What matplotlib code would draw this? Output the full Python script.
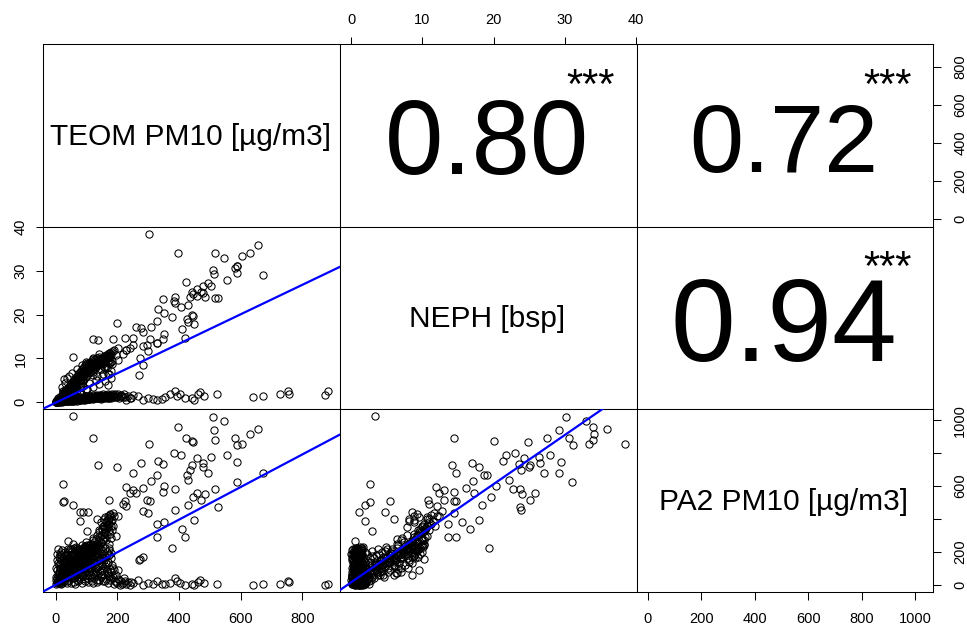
import matplotlib
matplotlib.use("Agg")
import matplotlib.pyplot as plt

plt.rcParams['font.family'] = ['Liberation Sans', 'DejaVu Sans']

# ---------------- data ----------------
var_labels = ["TEOM PM10 [µg/m3]", "NEPH [bsp]", "PA2 PM10 [µg/m3]"]

cluster_upper = [
    (5,0.4,15),(8,0.6,30),(10,0.5,12),(12,0.8,40),(15,1.0,25),(15,0.7,55),(18,1.2,35),(20,1.0,60),
    (20,1.4,20),(22,1.6,48),(25,1.2,70),(25,1.8,42),(28,2.0,58),(30,1.5,90),(30,2.2,65),(32,2.5,45),
    (35,1.8,110),(35,2.6,75),(38,2.9,60),(40,2.2,95),(40,3.1,88),(42,2.5,130),(45,3.4,100),(45,2.8,72),
    (48,3.0,118),(50,3.6,85),(50,2.6,140),(52,3.9,105),(55,3.2,160),(55,4.2,120),(58,3.6,95),(60,4.4,135),
    (60,3.0,175),(62,4.0,150),(65,4.8,110),(65,3.5,125),(68,4.5,170),(70,5.0,140),(70,3.9,190),(72,5.3,160),
    (75,4.2,100),(75,5.6,180),(78,4.8,205),(80,5.2,130),(80,6.0,175),(82,4.5,150),(85,5.6,195),(85,6.3,165),
    (88,5.0,215),(90,6.0,140),(90,6.8,200),(92,5.4,180),(95,6.5,225),(95,7.0,160),(98,5.8,205),(100,6.8,190),
    (100,7.4,230),(102,6.2,150),(105,7.2,210),(108,6.6,240),(110,7.8,220),(112,7.0,185),(115,8.0,250),
    (118,7.4,200),(120,8.4,235),(122,7.0,270),(125,8.6,260),(128,7.8,215),(130,9.0,280),(132,8.2,245),
    (135,9.4,300),(138,8.6,265),(140,9.0,230),(142,9.8,320),(145,8.8,290),(148,9.6,255),(150,10.2,340),
    (152,9.2,305),(155,10.0,275),(158,10.6,360),(160,9.6,320),(162,10.4,290),(165,10.9,380),(168,10.0,350),
    (170,11.0,400),(172,10.4,330),(175,11.2,370),(178,10.6,410),(180,11.5,390),(185,11.8,360),(190,12.0,420),
]
cluster_upper_more = [
    (2,0.2,50),(4,0.5,8),(6,0.3,90),(8,0.9,20),(9,0.4,130),(11,0.7,70),(13,1.1,10),(14,0.5,100),
    (16,1.3,45),(17,0.8,150),(19,1.5,30),(21,1.1,110),(23,1.8,75),(24,1.4,170),(26,2.1,55),(27,1.6,95),
    (29,2.4,35),(31,1.9,140),(33,2.7,85),(34,2.2,190),(36,3.0,50),(37,2.4,120),(39,3.3,100),(41,2.7,165),
    (43,3.6,70),(44,3.0,205),(46,3.9,125),(47,3.2,40),(49,4.2,145),(51,3.5,180),(53,4.5,60),(54,3.8,215),
    (56,4.8,130),(57,4.0,80),(59,5.1,165),(61,4.3,200),(63,5.4,90),(64,4.6,50),(66,5.7,150),(67,4.9,230),
    (69,6.0,115),(71,5.2,75),(73,6.3,190),(74,5.5,140),(76,6.6,95),(77,5.8,220),(79,6.9,160),(81,6.1,110),
    (83,7.2,200),(84,6.4,70),(86,7.5,180),(87,6.7,130),(89,7.8,225),(91,7.0,100),(93,8.1,210),(94,7.3,170),
    (96,8.4,235),(97,7.6,120),(99,8.7,215),(101,7.9,190),(103,9.0,240),(104,8.2,140),(106,8.6,225),
    (107,7.5,200),(109,8.9,180),(111,8.0,160),(113,9.2,230),(114,7.8,210),(116,9.0,195),(117,8.4,240),
    (119,9.5,220),(121,8.8,175),(123,9.8,235),(124,8.2,150),(126,9.3,205),(127,8.6,185),(129,9.9,240),
    (131,9.0,215),(133,10.1,230),(134,9.4,170),(136,10.0,200),(137,8.8,235),(139,9.7,190),(141,10.3,240),
    (143,9.2,220),
]
cluster_column = [
    (146,7.5,260),(147,9.4,300),(149,8.9,380),(151,9.7,340),(153,6.4,280),(154,9.9,360),(156,8.1,400),
    (157,10.1,320),(159,7.8,350),(161,9.6,410),(163,10.3,270),(164,8.2,390),(166,10.5,345),(167,7.8,300),
    (169,8.9,420),(171,10.2,370),(173,6.5,250),(174,10.6,400),(176,8.9,310),(177,9.3,430),(179,7.2,285),
    (181,10.7,360),(182,8.8,395),(183,9.4,330),
]
cluster_edge = [
    (20,3.5,90),(30,4.5,120),(36,5.5,150),(45,6.0,160),(55,6.6,180),(70,7.5,210),(85,8.5,240),
    (100,9.2,260),(120,10.0,285),(140,11.0,330),(90,6.0,60),(110,7.0,80),(130,8.0,100),(115,8.5,130),
    (150,9.0,160),
]
cluster_lower = [
    (3,0.1,5),(6,0.2,40),(10,0.1,80),(12,0.3,120),(15,0.2,160),(18,0.4,200),(20,0.1,10),(25,0.3,140),
    (28,0.5,100),(30,0.2,60),(35,0.6,180),(38,0.3,25),(40,0.5,215),(45,0.4,80),(48,0.7,150),(50,0.3,45),
    (55,0.6,110),(58,0.8,190),(60,0.4,15),(65,0.7,65),(68,0.5,135),(70,0.9,225),(75,0.6,35),(78,0.8,95),
    (80,0.5,170),(85,1.0,55),(88,0.7,120),(90,0.9,205),(95,0.6,20),(98,1.1,85),(100,0.8,150),(105,0.7,40),
    (108,1.0,190),(110,1.2,110),(115,0.9,60),(118,1.1,220),(120,0.8,10),(125,1.3,140),(128,1.0,75),
    (132,1.2,180),(135,0.9,30),(140,1.4,115),(145,1.1,200),(148,0.8,50),(152,1.3,90),(155,1.0,160),
    (160,1.5,25),(165,1.2,130),(170,0.9,70),(175,1.4,210),(180,1.1,40),(185,1.6,100),(195,1.3,15),
    (205,1.0,30),(215,1.5,5),(225,1.2,20),
]
cluster_lower_more = [
    (1,0.0,30),(2,0.1,100),(4,0.2,150),(5,0.0,190),(7,0.3,220),(8,0.1,60),(9,0.2,15),(11,0.4,170),
    (13,0.1,50),(14,0.3,95),(16,0.5,130),(17,0.2,5),(19,0.3,180),(21,0.6,40),(22,0.2,210),(24,0.5,70),
    (26,0.4,120),(27,0.7,20),(29,0.3,160),(31,0.6,90),(32,0.4,200),(34,0.5,55),(36,0.8,130),(37,0.3,10),
    (39,0.6,175),(41,0.4,105),(43,0.7,30),(44,0.5,160),(46,0.9,75),(47,0.6,220),(49,0.4,125),(51,0.8,10),
    (53,0.5,185),(54,0.7,90),(56,1.0,140),(57,0.4,40),(59,0.7,225),(61,0.5,100),(63,0.9,165),(64,0.6,5),
    (66,1.1,120),(67,0.7,60),(69,0.4,200),(71,0.8,145),(73,1.0,25),(74,0.6,175),(76,1.2,80),(77,0.8,210),
    (79,0.5,130),(81,1.0,45),(83,0.7,190),(84,1.2,105),(86,0.8,10),(87,1.1,155),(89,0.6,75),(91,1.3,230),
    (93,0.9,130),(94,0.7,35),(96,1.2,175),(97,0.9,95),(99,1.4,60),(101,1.0,205),(103,0.7,120),(104,1.3,15),
    (106,1.0,165),(107,0.8,85),(109,1.4,225),(111,1.1,45),(113,0.8,140),(114,1.5,100),(116,1.1,190),
    (117,0.9,25),(119,1.3,160),(121,1.0,65),(123,1.6,210),(124,1.2,120),(126,0.9,40),(127,1.4,175),
    (129,1.1,90),(131,1.7,230),(133,1.3,15),(134,1.0,145),(136,1.5,60),(137,1.2,195),(139,0.9,110),
    (141,1.6,30),(143,1.2,165),(144,1.4,80),(146,1.0,215),(147,1.7,125),(149,1.3,45),(151,1.5,185),
    (153,1.1,100),(154,1.8,20),(156,1.4,150),(158,1.2,65),(159,1.6,225),(161,1.3,115),(163,1.0,35),
    (164,1.7,170),(166,1.4,85),(168,1.2,200),(169,1.8,10),(171,1.5,140),(173,1.1,55),(174,1.6,180),
    (176,1.3,95),(178,1.7,30),(179,1.2,160),(181,1.5,75),(183,1.9,120),(186,1.4,45),(188,1.7,5),
    (190,1.3,90),(193,1.8,25),(197,1.5,60),(200,1.2,10),(203,1.9,35),(208,1.4,0),(212,1.7,20),
    (218,1.3,10),(222,1.8,40),(235,1.5,15),(240,1.1,0),
]
cluster_mid = [
    (40,1.2,50),(60,1.8,70),(80,2.4,90),(100,3.0,110),(120,3.5,130),(140,4.2,150),(160,4.8,170),
    (180,5.5,195),(70,2.8,30),(90,3.8,60),(110,4.4,85),(130,5.2,100),(150,6.0,120),(170,6.5,140),
    (50,2.0,200),(30,1.0,120),
]
lower_arm = [
    (230,0.6,5),(245,0.9,15),(252,1.6,8),(268,1.4,30),(285,0.5,0),(300,1.0,10),(317,0.8,5),(330,0.6,20),
    (344,0.8,6),(355,1.2,2),(371,2.0,12),(387,2.5,40),(395,1.5,25),(403,1.9,10),(420,1.0,0),(441,1.1,4),
    (450,0.6,-4),(463,2.0,18),(468,2.3,30),(480,1.5,8),(522,1.9,4),(641,1.2,-4),(674,1.5,4),(728,1.9,4),
    (755,2.5,20),(758,2.0,14),(874,1.7,0),(884,2.5,4),
]
high_points = [
    (57,3.3,1024),(511,30.1,1018),(547,33.0,994),(396,34.0,957),(657,35.9,949),(514,29.2,941),
    (630,34.1,915),(120,14.4,892),(422,27.5,892),(582,30.5,892),(517,34.0,880),(447,24.8,870),
    (441,20.0,876),(605,33.4,856),(303,38.4,856),(588,31.1,850),(385,23.0,801),(407,21.8,791),
    (557,27.9,791),(460,24.3,771),(505,26.4,775),(588,29.5,748),(477,26.5,742),(441,25.1,730),
    (137,14.1,730),(349,23.6,735),(200,18.0,716),(276,16.9,740),(333,21.3,750),(479,24.9,716),
    (436,23.9,700),(252,14.7,680),(495,27.1,680),(671,29.1,680),(328,18.6,665),(425,19.1,669),
    (430,22.1,639),(311,17.1,633),(588,31.0,625),(25,2.6,615),(351,20.4,598),(284,16.1,590),
    (387,22.7,584),(517,23.7,582),(262,17.2,558),(349,14.4,564),(457,25.8,558),(484,24.0,550),
    (446,19.6,531),(25,2.6,500),(27,5.4,507),(57,1.9,483),(173,10.8,517),(219,11.0,491),
    (228,12.0,481),(295,13.1,517),(306,14.4,507),(225,14.7,511),(430,18.4,487),(473,25.1,517),
    (79,1.1,442),(106,8.5,442),(90,4.8,440),(284,12.8,446),(301,11.6,436),(133,6.0,400),
    (387,23.9,456),(528,23.7,470),(449,17.9,391),(330,13.6,372),(351,15.6,381),(409,16.7,341),
    (419,14.7,290),(330,13.6,292),(376,19.4,223),(271,6.3,150),(274,10.2,158),(284,8.5,166),
    (203,9.6,91),(57,10.3,247),(195,10.7,294),(240,12.3,558),(250,13.0,578),(230,11.9,592),
    (187,14.5,436),(176,11.2,426),(203,12.3,416),(171,4.0,60),(14,0.2,190),(39,0.5,268),
    (79,2.0,385),(101,3.0,325),(60,3.5,122),(120,6.3,71),(150,8.5,57),(175,9.7,223),
]

observations = (cluster_upper + cluster_upper_more + cluster_column + cluster_edge +
                 cluster_lower + cluster_lower_more + cluster_mid + lower_arm + high_points)
teom = [o[0] for o in observations]
neph = [o[1] for o in observations]
pa2 = [o[2] for o in observations]

# correlation texts (upper panels)
corr_values = [0.80, 0.72, 0.94]
corr_labels = ["0.80", "0.72", "0.94"]
signif_labels = ["***", "***", "***"]

# fitted straight lines (intercept, slope)
fit_teom_neph = (-0.10, 0.0336)
fit_teom_pa2 = (-1.0, 0.991)
fit_neph_pa2 = (14.4, 29.87)

teom_ticks = [0, 200, 400, 600, 800]
neph_ticks = [0, 10, 20, 30, 40]
pa2_ticks = [0, 200, 400, 600, 800, 1000]
pa2_right_labels = ["0", "200", "", "600", "", "1000"]

# ---------------- layout ----------------
lim_teom = (-39.5, 922)
lim_neph = (-1.55, 40.05)
lim_pa2 = (-42, 1067)

fig = plt.figure(figsize=(9.67, 6.28), dpi=100)
axes = fig.subplots(3, 3, gridspec_kw=dict(left=0.0448, right=0.9651, top=0.9299,
                                            bottom=0.0578, wspace=0, hspace=0))
for ax in axes.flat:
    ax.set_xticks([])
    ax.set_yticks([])
    for sp in ax.spines.values():
        sp.set_linewidth(0.75)
        sp.set_color('black')

TL = 5.4
TW = 0.75
FS = 10.5
pt_kw = dict(ls='none', marker='o', mfc='none', mec='black', ms=5.2, mew=0.75)
ln_kw = dict(color='blue', lw=1.6, zorder=5)

# scatter panels
ax = axes[1, 0]
ax.plot(teom, neph, **pt_kw)
ax.axline((0, fit_teom_neph[0]), slope=fit_teom_neph[1], **ln_kw)
ax.set_xlim(lim_teom); ax.set_ylim(lim_neph)
ax.set_yticks(neph_ticks)
ax.tick_params(axis='y', left=True, labelleft=True, length=TL, width=TW,
               labelsize=FS, pad=6.0, labelrotation=90)
plt.setp(ax.get_yticklabels(), va='center')

ax = axes[2, 0]
ax.plot(teom, pa2, **pt_kw)
ax.axline((0, fit_teom_pa2[0]), slope=fit_teom_pa2[1], **ln_kw)
ax.set_xlim(lim_teom); ax.set_ylim(lim_pa2)
ax.set_xticks(teom_ticks)
ax.tick_params(axis='x', bottom=True, labelbottom=True, length=TL, width=TW,
               labelsize=FS, pad=9.5)

ax = axes[2, 1]
ax.plot(neph, pa2, **pt_kw)
ax.axline((0, fit_neph_pa2[0]), slope=fit_neph_pa2[1], **ln_kw)
ax.set_xlim(lim_neph); ax.set_ylim(lim_pa2)

# diagonal labels
for i in range(3):
    axes[i, i].text(0.495, 0.448, var_labels[i], transform=axes[i, i].transAxes,
                    ha='center', va='baseline', fontsize=21.5)

# correlation panels
corr_pos = [(0, 1), (0, 2), (1, 2)]
corr_sizes = [75.5, 70, 84]
corr_base = [0.286, 0.301, 0.264]
for k, (r, c) in enumerate(corr_pos):
    ax = axes[r, c]
    ax.text(0.495, corr_base[k], corr_labels[k], transform=ax.transAxes,
            ha='center', va='baseline', fontsize=corr_sizes[k])
    ax.text(0.846, 0.705, signif_labels[k], transform=ax.transAxes,
            ha='center', va='baseline', fontsize=30)

# outer axes
ax = axes[0, 1]
ax.set_xlim(lim_neph)
ax.set_xticks(neph_ticks)
ax.xaxis.tick_top()
ax.tick_params(axis='x', top=True, labeltop=True, bottom=False, labelbottom=False,
               length=TL, width=TW, labelsize=FS, pad=6.5)

ax = axes[0, 2]
ax.set_ylim(lim_teom)
ax.set_yticks(teom_ticks)
ax.yaxis.tick_right()
ax.tick_params(axis='y', right=True, labelright=True, left=False, labelleft=False,
               length=TL, width=TW, labelsize=FS, pad=9.0, labelrotation=90)
plt.setp(ax.get_yticklabels(), va='center')

ax = axes[2, 2]
ax.set_xlim(lim_pa2); ax.set_ylim(lim_pa2)
ax.set_xticks(pa2_ticks)
ax.tick_params(axis='x', bottom=True, labelbottom=True, length=TL, width=TW,
               labelsize=FS, pad=9.5)
ax.set_yticks(pa2_ticks)
ax.set_yticklabels(pa2_right_labels)
ax.yaxis.tick_right()
ax.tick_params(axis='y', right=True, labelright=True, left=False, labelleft=False,
               length=TL, width=TW, labelsize=FS, pad=9.0, labelrotation=90)
plt.setp(ax.get_yticklabels(), va='center')

fig.savefig("out.png", dpi=100)
